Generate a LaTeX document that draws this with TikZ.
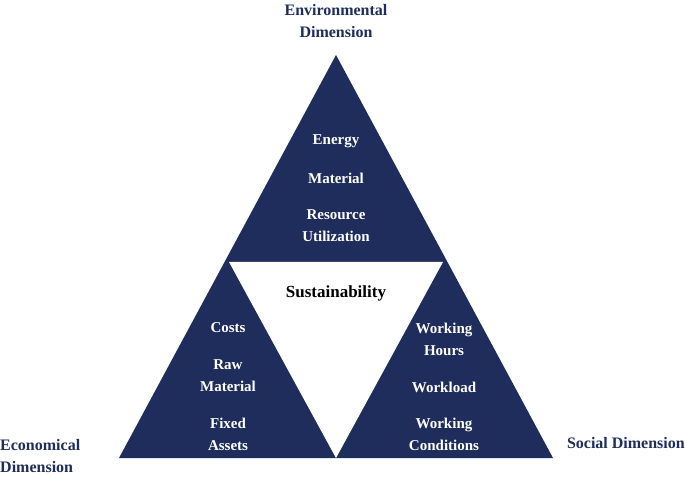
\documentclass[tikz,border=0pt]{standalone}
\usepackage{fontspec}
\setmainfont{Liberation Serif}
\begin{document}
\begin{tikzpicture}[x=1pt,y=-1pt,
  inner/.style={text=white,font=\fontsize{15}{18}\selectfont\bfseries,align=center,inner sep=0},
  dim/.style={text={rgb,255:red,31;green,45;blue,92},font=\fontsize{16}{22}\selectfont\bfseries,inner sep=0}]
\definecolor{navy}{RGB}{31,45,92}
\useasboundingbox (0,0) rectangle (685,478);
\fill[navy] (119,458) -- (336,55) -- (553,458) -- cycle;
\fill[white] (229,262) -- (443,262) -- (336,458) -- cycle;
\node[dim,align=center] (env) at (336,21) {Environmental\\Dimension};
\node[dim,align=left,anchor=west] (eco) at (0,456) {Economical\\Dimension};
\node[dim,anchor=east] (soc) at (685,443) {Social Dimension};
\node[inner] (e1) at (336,141) {Energy};
\node[inner] (e2) at (336,178) {Material};
\node[inner,font=\fontsize{15}{22}\selectfont\bfseries] (e3) at (336,226) {Resource\\Utilization};
\node[inner,text=black,font=\fontsize{17}{20}\selectfont\bfseries] (s) at (336,293) {Sustainability};
\node[inner] (c1) at (228,328) {Costs};
\node[inner,font=\fontsize{15}{22}\selectfont\bfseries] (c2) at (228,376) {Raw\\Material};
\node[inner,font=\fontsize{15}{22}\selectfont\bfseries] (c3) at (228,434) {Fixed\\Assets};
\node[inner,font=\fontsize{15}{22}\selectfont\bfseries] (w1) at (444,339) {Working\\Hours};
\node[inner] (w2) at (444,387) {Workload};
\node[inner,font=\fontsize{15}{22}\selectfont\bfseries] (w3) at (444,434) {Working\\Conditions};
\end{tikzpicture}
\end{document}
